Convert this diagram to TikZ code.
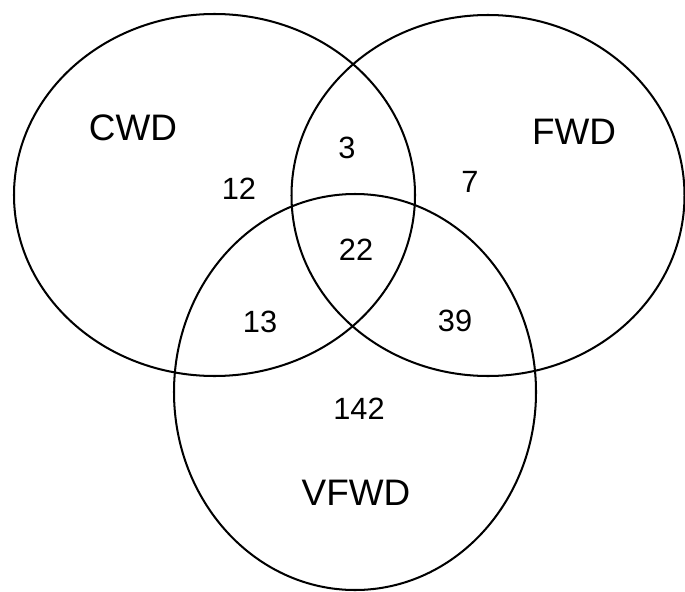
\documentclass[tikz,border=0pt]{standalone}
\usepackage{fontspec}
\setmainfont{Liberation Sans}
\usepackage{tikz}
\usetikzlibrary{positioning}
\tikzset{x=0.02cm, y=-0.02cm,
venn/.style={ % Sets the outline of each set
line width=1.15pt},
count/.style={ % Numbers inside the regions
inner sep=0pt,
font=\fontsize{17.5}{20}\selectfont},
setname/.style={ % Name of each set
inner sep=0pt,
font=\fontsize{21}{24}\selectfont}}

\begin{document}
\begin{tikzpicture}
\useasboundingbox (0,0) rectangle (685,591);
\draw[venn] (214.5,195) ellipse [x radius=200.5, y radius=181];
\draw[venn] (488,195.5) ellipse [x radius=196.5, y radius=180.5];
\draw[venn] (355,392) ellipse [x radius=181, y radius=198];
\node[setname] (cwd) at (133,128) {CWD};
\node[setname] (fwd) at (574,132) {FWD};
\node[setname] (vfwd) at (356,493) {VFWD};
\node[count] (nc) at (239,189) {12};
\node[count] (ncf) at (347,148) {3};
\node[count] (nf) at (470,182) {7};
\node[count] (ncfv) at (356,250) {22};
\node[count] (ncv) at (260,322) {13};
\node[count] (nfv) at (455,321) {39};
\node[count] (nv) at (359,409) {142};
\end{tikzpicture}
\end{document}
